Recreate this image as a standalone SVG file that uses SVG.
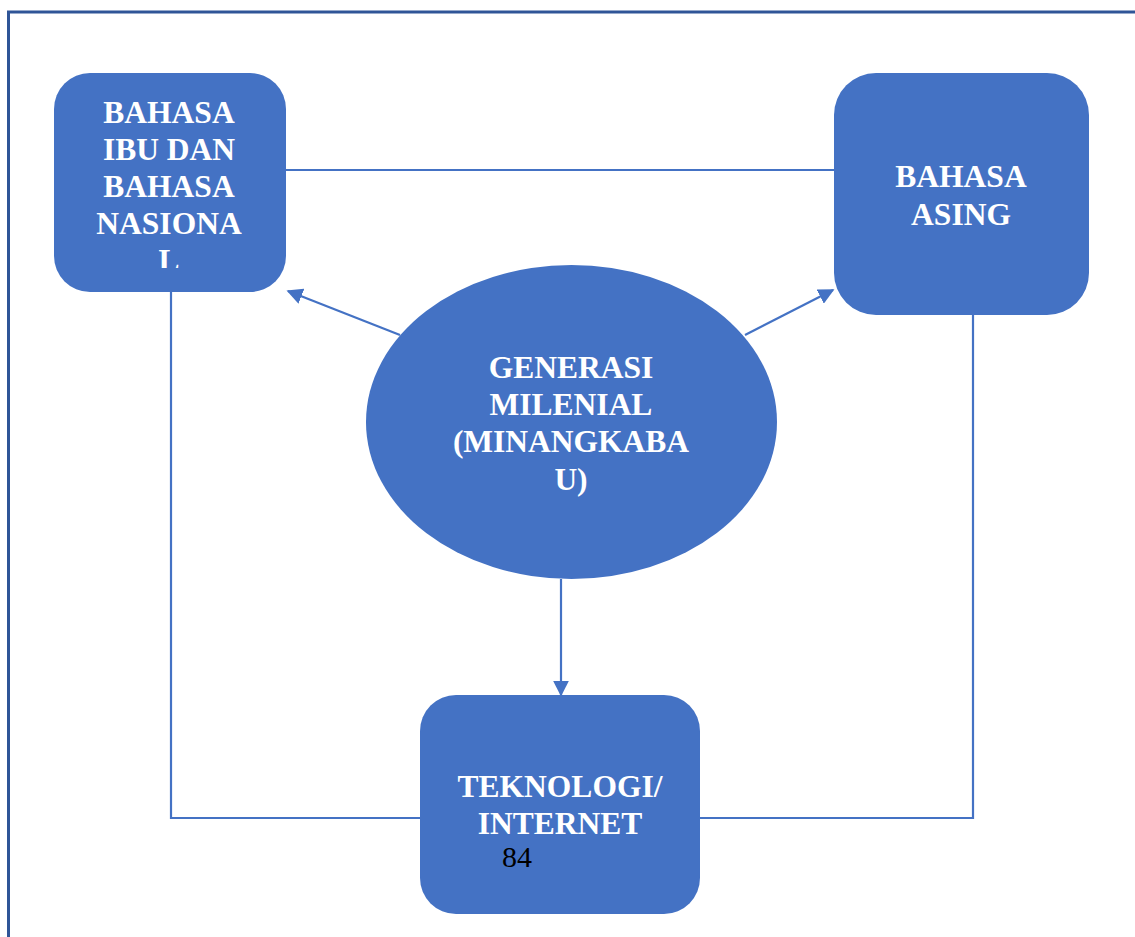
<svg xmlns="http://www.w3.org/2000/svg" width="1135" height="937" viewBox="0 0 1135 937">
<defs>
<style>
.node{fill:#4472C4;}
.t{font-weight:bold;font-size:31.5px;fill:#FFFFFF;text-anchor:middle;}
.n{font-size:30px;fill:#000000;text-anchor:middle;}
.c{stroke:#4472C4;stroke-width:2.2;fill:none;}
</style>
<marker id="ah2" viewBox="0 0 10 10" refX="9" refY="5" markerWidth="16" markerHeight="16" markerUnits="userSpaceOnUse" orient="auto">
<path d="M0,0 L10,5 L0,10 z" fill="#4472C4"/>
</marker>
<clipPath id="clipL"><rect x="54" y="73" width="232" height="195"/></clipPath>
</defs>
<rect width="1135" height="937" fill="#FFFFFF"/>
<g id="frame" stroke="#2F5597" stroke-width="3" fill="none">
<path d="M8.5,937 L8.5,12 L1135,12"/>
</g>
<g id="connectors">
<line class="c" x1="286" y1="170" x2="834" y2="170"/>
<polyline class="c" points="171,292 171,818 420,818"/>
<polyline class="c" points="973,315 973,818 700,818"/>
<line class="c" x1="400" y1="335" x2="288" y2="291" marker-end="url(#ah2)"/>
<line class="c" x1="745" y1="335" x2="833" y2="290" marker-end="url(#ah2)"/>
<line class="c" x1="561" y1="579" x2="561" y2="695" marker-end="url(#ah2)"/>
</g>
<g font-family="Liberation Serif, serif">
<g id="node-bahasa-ibu">
<rect class="node" x="54" y="73" width="232" height="219" rx="36"/>
<g clip-path="url(#clipL)">
<text class="t" x="169" y="123">BAHASA</text>
<text class="t" x="169" y="160">IBU DAN</text>
<text class="t" x="169" y="197">BAHASA</text>
<text class="t" x="169" y="234">NASIONA</text>
<text class="t" x="169" y="271">L</text>
</g>
</g>
<g id="node-bahasa-asing">
<rect class="node" x="834" y="73" width="255" height="242" rx="42"/>
<text class="t" x="961" y="187">BAHASA</text>
<text class="t" x="961" y="225">ASING</text>
</g>
<g id="node-generasi">
<ellipse class="node" cx="571.5" cy="422" rx="205.5" ry="157"/>
<text class="t" x="571" y="378">GENERASI</text>
<text class="t" x="571" y="415">MILENIAL</text>
<text class="t" x="571" y="452">(MINANGKABA</text>
<text class="t" x="571" y="490">U)</text>
</g>
<g id="node-teknologi">
<rect class="node" x="420" y="695" width="280" height="219" rx="36"/>
<text class="t" x="560" y="797">TEKNOLOGI/</text>
<text class="t" x="560" y="834">INTERNET</text>
<text class="n" x="517" y="867">84</text>
</g>
</g>
</svg>
